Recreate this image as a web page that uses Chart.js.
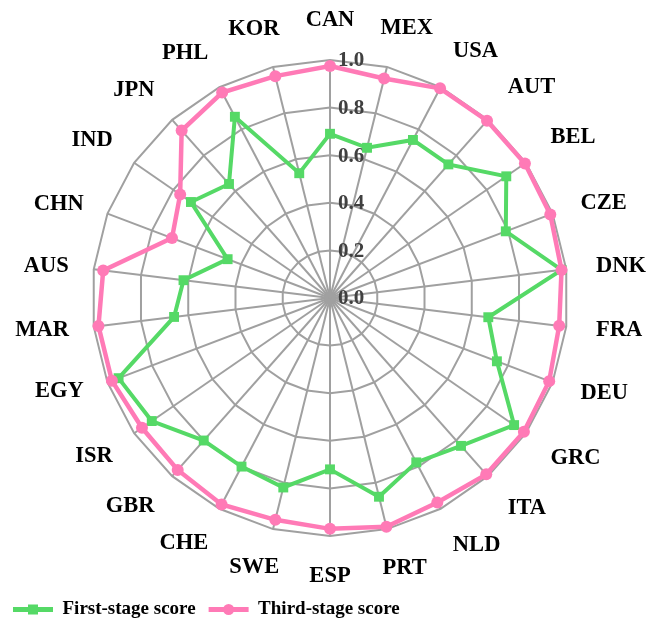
<!DOCTYPE html>
<html>
<head>
<meta charset="utf-8">
<script src="https://cdn.jsdelivr.net/npm/chart.js@4.4.1/dist/chart.umd.min.js"></script>
<style>
  html, body { margin: 0; padding: 0; background: #fff; }
  #wrap { width: 661px; height: 621px; }
</style>
</head>
<body>
<div id="wrap"><canvas id="myChart"></canvas></div>
<script>
var countries = ['CAN', 'MEX', 'USA', 'AUT', 'BEL', 'CZE', 'DNK', 'FRA', 'DEU', 'GRC', 'ITA', 'NLD', 'PRT',
                 'ESP', 'SWE', 'CHE', 'GBR', 'ISR', 'EGY', 'MAR', 'AUS', 'CHN', 'IND', 'JPN', 'PHL', 'KOR'];
var firstStage = [0.69, 0.65, 0.75, 0.75, 0.90, 0.79, 0.98, 0.67, 0.75, 0.94, 0.83, 0.78, 0.86,
                  0.72, 0.82, 0.80, 0.80, 0.91, 0.95, 0.66, 0.62, 0.46, 0.71, 0.64, 0.86, 0.54];
var thirdStage = [0.975, 0.95, 0.995, 0.995, 0.995, 0.99, 0.98, 0.97, 0.985, 0.99, 0.99, 0.97, 0.99,
                  0.97, 0.96, 0.98, 0.965, 0.96, 0.98, 0.98, 0.96, 0.71, 0.765, 0.94, 0.975, 0.96];
var tickValues = [0, 0.2, 0.4, 0.6, 0.8, 1.0];

var serif = "'Liberation Serif', 'Times New Roman', serif";
var green = '#55d966';
var pink = '#ff7ab6';
var gridGrey = '#a0a0a0';

function clamp01(v) { return Math.max(0, Math.min(1, v)); }

// tick numbers sit just right of the vertical axis line
var tickLabels = {
  id: 'tickLabels',
  beforeDatasetsDraw: function (chart) {
    var scale = chart.scales.r, ctx = chart.ctx;
    ctx.save();
    ctx.font = 'bold 21px ' + serif;
    ctx.fillStyle = '#404040';
    ctx.textAlign = 'left';
    ctx.textBaseline = 'middle';
    scale.ticks.forEach(function (t) {
      var d = scale.getDistanceFromCenterForValue(t.value);
      ctx.fillText(t.value.toFixed(1), scale.xCenter + 8, scale.yCenter - d + 1);
    });
    ctx.restore();
  }
};

// country names outside the outer ring: centred near the vertical,
// pushed sideways / lifted by half the text box elsewhere
var countryLabels = {
  id: 'countryLabels',
  afterDraw: function (chart) {
    var scale = chart.scales.r, ctx = chart.ctx;
    ctx.save();
    ctx.font = 'bold 22.5px ' + serif;
    ctx.fillStyle = '#000';
    ctx.textAlign = 'center';
    ctx.textBaseline = 'middle';
    chart.data.labels.forEach(function (lbl, i) {
      var a = scale.getIndexAngle(i);
      var s = Math.sin(a), c = Math.cos(a);
      var hw = ctx.measureText(lbl).width / 2;
      var p = scale.getPointPosition(i, scale.drawingArea + 30 - 5 * clamp01(-s));
      var fx = clamp01(Math.abs(s) / 0.5) * Math.sign(s);
      var fy = clamp01((Math.abs(c) - 0.4) / 0.2) * Math.sign(c);
      ctx.fillText(lbl, p.x + hw * fx, p.y - 10 * fy);
    });
    ctx.restore();
  }
};

// marker in the middle of each legend line
var legendMarkers = {
  id: 'legendMarkers',
  afterDraw: function (chart) {
    var lg = chart.legend, ctx = chart.ctx;
    ctx.save();
    lg.legendItems.forEach(function (item, i) {
      var hb = lg.legendHitBoxes[i];
      var ds = chart.data.datasets[item.datasetIndex];
      var x = hb.left + lg.options.labels.boxWidth / 2, y = hb.top + 9.5;
      ctx.fillStyle = ds.borderColor;
      if (ds.pointStyle === 'rect') {
        ctx.fillRect(x - 5, y - 5, 10, 10);
      } else {
        ctx.beginPath();
        ctx.arc(x, y, 5.5, 0, Math.PI * 2);
        ctx.fill();
      }
    });
    ctx.restore();
  }
};

var ctx = document.getElementById('myChart').getContext('2d');
var myChart = new Chart(ctx, {
  type: 'radar',
  data: {
    labels: countries,
    datasets: [{
      label: 'First-stage score',
      data: firstStage,
      borderColor: green,
      backgroundColor: green,
      borderWidth: 4,
      pointStyle: 'rect',
      pointRadius: 7,
      pointBorderWidth: 0,
      pointBackgroundColor: green,
      fill: false,
      order: 1
    }, {
      label: 'Third-stage score',
      data: thirdStage,
      borderColor: pink,
      backgroundColor: pink,
      borderWidth: 4.5,
      pointStyle: 'circle',
      pointRadius: 6,
      pointBorderWidth: 0,
      pointBackgroundColor: pink,
      fill: false,
      order: 0
    }]
  },
  options: {
    responsive: true,
    maintainAspectRatio: false,
    animation: false,
    layout: { padding: { top: 0, left: 0, right: 0, bottom: -8 } },
    scales: {
      r: {
        min: 0,
        max: 1,
        afterBuildTicks: function (scale) {
          scale.ticks = tickValues.map(function (v) { return { value: v }; });
        },
        afterFit: function (scale) {
          scale.drawingArea = 238;
          scale.yCenter = 298;
        },
        ticks: { display: false },
        pointLabels: { display: false },
        grid: { color: gridGrey, lineWidth: 2 },
        angleLines: { color: gridGrey, lineWidth: 2 }
      }
    },
    plugins: {
      tooltip: { enabled: false },
      legend: {
        position: 'bottom',
        align: 'start',
        labels: {
          boxWidth: 40,
          boxHeight: 5,
          padding: 13,
          color: '#000',
          font: { family: serif, size: 19, weight: 'bold' },
          sort: function (a, b) { return a.datasetIndex - b.datasetIndex; },
          generateLabels: function (chart) {
            return Chart.defaults.plugins.legend.labels.generateLabels(chart).map(function (it) {
              it.lineWidth = 0;
              return it;
            });
          }
        }
      }
    }
  },
  plugins: [tickLabels, countryLabels, legendMarkers]
});
</script>
</body>
</html>
